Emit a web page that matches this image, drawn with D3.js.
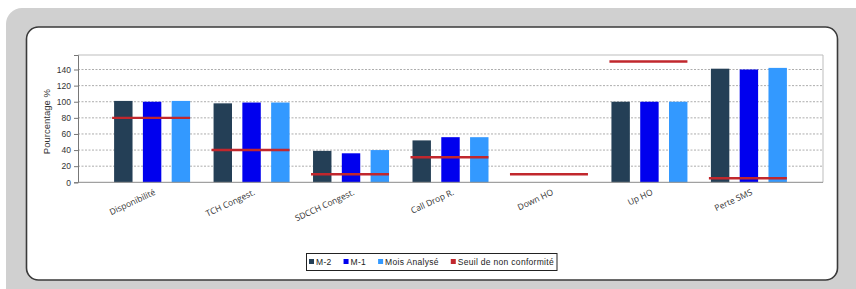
<!DOCTYPE html>
<html>
<head>
<meta charset="utf-8">
<script src="https://cdn.jsdelivr.net/npm/d3@7"></script>
<style>
  body { margin:0; background:#fff; }
  svg { display:block; font-family:"Liberation Sans", Arial, sans-serif; }
</style>
</head>
<body>
<div id="chart"></div>
<script>
// chart data
const categories = ["Disponibilité", "TCH Congest.", "SDCCH Congest.", "Call Drop R.", "Down HO", "Up HO", "Perte SMS"];
const seriesNames = ["M-2", "M-1", "Mois Analysé"];
const valuesM2 = [101, 98, 39, 52, 0, 100, 141];
const valuesM1 = [100, 99, 36, 56, 0, 100, 140];
const valuesMois = [101, 99, 40, 56, 0, 100, 142];
const seuil = [80, 40, 10, 31, 10, 150, 5];
const yTicks = [0, 20, 40, 60, 80, 100, 120, 140];
const colors = ["#243f56", "#0000ee", "#3399ff"];
const seuilColor = "#c1272d";

const W = 856, H = 289;
const margin = {left:78, right:33, top:55, bottom:107};
const svg = d3.select("#chart").append("svg").attr("width", W).attr("height", H);

// frames
svg.append("rect").attr("x", 6).attr("y", 8).attr("width", 880).attr("height", 320)
    .attr("rx", 16).attr("fill", "#d0d0d0");
svg.append("rect").attr("x", 26.5).attr("y", 27).attr("width", 811).attr("height", 253)
    .attr("rx", 12).attr("fill", "#fff").attr("stroke", "#3a3a3a").attr("stroke-width", 1.6);

const x0 = margin.left, x1 = W - margin.right;
const yBase = 182.3;
const y = d3.scaleLinear().domain([0, 158]).range([yBase, margin.top]);

const xCat = d3.scalePoint().domain(categories).range([x0, x1]).padding(0.745);
const xSer = d3.scaleBand().domain(seriesNames).range([-38, 38]).paddingInner(0.36);

const g = svg.append("g");

// gridlines
g.selectAll(".grid").data(yTicks.filter(d => d > 0)).join("line")
    .attr("x1", x0).attr("x2", x1)
    .attr("y1", d => y(d)).attr("y2", d => y(d))
    .attr("stroke", "#8a8a8a").attr("stroke-width", 0.7).attr("stroke-dasharray", "2,1.5");

// plot border (top/right)
g.append("path").attr("d", `M${x0},${margin.top}H${x1}V${yBase}`)
    .attr("fill", "none").attr("stroke", "#bdbdbd").attr("stroke-width", 1);

// bars
const series = [valuesM2, valuesM1, valuesMois];
series.forEach((vals, i) => {
    g.selectAll(".bar" + i).data(categories).join("rect")
        .attr("x", (d) => xCat(d) + xSer(seriesNames[i]))
        .attr("width", xSer.bandwidth())
        .attr("y", (d, j) => y(vals[j]))
        .attr("height", (d, j) => yBase - y(vals[j]))
        .attr("fill", colors[i]);
});

// threshold lines
g.selectAll(".seuil").data(categories).join("line")
    .attr("x1", d => xCat(d) - 40).attr("x2", d => xCat(d) + 38)
    .attr("y1", (d, j) => y(seuil[j])).attr("y2", (d, j) => y(seuil[j]))
    .attr("stroke", seuilColor).attr("stroke-width", 2.4);

// axes
const yAxis = d3.axisLeft(y).tickValues(yTicks).tickSize(4).tickPadding(3);
const ya = svg.append("g").attr("transform", `translate(${x0},0)`).call(yAxis);
ya.select(".domain").attr("stroke", "#777");
ya.selectAll(".tick line").attr("stroke", "#777");
ya.selectAll("text").attr("font-size", 8.5).attr("fill", "#333")
    .attr("font-family", "Liberation Sans, Arial, sans-serif");

svg.append("line").attr("x1", x0).attr("x2", x1).attr("y1", yBase).attr("y2", yBase)
    .attr("stroke", "#8a8a8a").attr("stroke-width", 1);

// category labels
svg.selectAll(".xl").data(categories).join("text")
    .attr("transform", d => `translate(${xCat(d) + 4},${yBase + 12}) rotate(-25)`)
    .attr("text-anchor", "end")
    .attr("font-size", 8.5).attr("fill", "#333")
    .attr("font-family", "Open Sans, Liberation Sans, sans-serif")
    .text(d => d);

svg.append("text")
    .attr("transform", `translate(50,${(margin.top + yBase) / 2 + 3}) rotate(-90)`)
    .attr("text-anchor", "middle").attr("font-size", 9.5).attr("fill", "#333")
    .text("Pourcentage %");

// legend
const legendItems = seriesNames.concat(["Seuil de non conformité"]);
const legendColors = colors.concat([seuilColor]);
const lg = svg.append("g");
const lbox = lg.append("rect").attr("y", 253.5).attr("height", 17)
    .attr("fill", "#fff").attr("stroke", "#222").attr("stroke-width", 1);
let lx = 309;
legendItems.forEach((name, i) => {
    lg.append("rect").attr("x", lx).attr("y", 259).attr("width", 5).attr("height", 5)
        .attr("fill", legendColors[i]);
    const t = lg.append("text").attr("x", lx + 7).attr("y", 265)
        .attr("font-size", 8.5).attr("letter-spacing", 0.3).attr("fill", "#222").text(name);
    lx += 7 + t.node().getComputedTextLength() + 12;
});
lbox.attr("x", 306.5).attr("width", lx - 12 - 306.5 + 3);
</script>
</body>
</html>
